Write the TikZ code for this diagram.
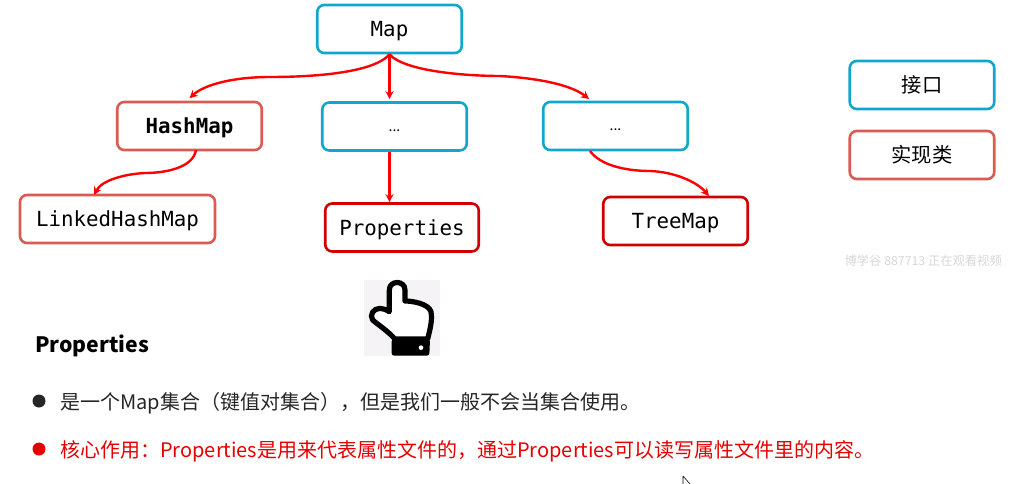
\documentclass[tikz,border=0pt]{standalone}
\usepackage{fontspec}
\setmainfont{Noto Sans CJK SC}
\newfontfamily\codefont{DejaVu Sans Mono}
\newcommand{\fsz}[1]{\fontsize{#1}{#1}\selectfont}
\usetikzlibrary{arrows.meta}
\definecolor{ifaceblue}{HTML}{12A6CC}
\definecolor{softred}{HTML}{DB5A52}
\definecolor{hardred}{HTML}{D00000}
\definecolor{linkred}{HTML}{FF0000}
\definecolor{inktext}{HTML}{262626}
\definecolor{handbg}{HTML}{F5F3F6}
\tikzset{
  box/.style={draw,rounded corners=7pt,line width=2.6pt,fill=white,inner sep=0pt,
    minimum width=#1,minimum height=48pt,text=black},
  box/.default=144.5pt,
  code/.style={font=\codefont\fsz{20.8},text height=15pt,text depth=0pt},
  iface/.style={box=#1,draw=ifaceblue},
  iface/.default=144.5pt,
  soft/.style={box=#1,draw=softred},
  soft/.default=144.5pt,
  hard/.style={box=#1,draw=hardred},
  hard/.default=144.5pt,
  link/.style={draw=linkred,line width=2.4pt,-{Stealth[length=8pt,width=8pt]}},
  body/.style={anchor=west,inner sep=0pt,font=\fsz{20}},
  bullet/.style={circle,inner sep=0pt,minimum size=13pt}
}
\begin{document}
\begin{tikzpicture}[x=1pt,y=-1pt]
\useasboundingbox (0,0) rectangle (1014,484);
\node[iface,code] (map) at (389.5,29) {Map};
\node[soft,code,font=\codefont\bfseries\fsz{20.8}] (hash) at (189.5,126) {HashMap};
\node[iface] (dotsa) at (394.5,126.5) {\fsz{14}\smash{\raisebox{-5pt}{...}}};
\node[iface] (dotsb) at (615.5,126) {\fsz{14}\smash{\raisebox{-5pt}{...}}};
\node[soft=195pt,code] (linked) at (117.5,219) {LinkedHashMap};
\node[hard=153.5pt,code] (prop) at (402,227.5) {Properties};
\node[hard,code] (tree) at (675.5,221) {TreeMap};
\node[iface,font=\fsz{20.3}] (legi) at (922,85) {接口};
\node[soft,font=\fsz{20.3}] (legc) at (922,155) {实现类};
\coordinate (hashin) at ([yshift=2.5pt]hash.north);
\coordinate (dotsaout) at (map.south |- dotsa.south);
\coordinate (dotsain) at ([yshift=2pt]map.south |- dotsa.north);
\coordinate (dotsbin) at (589,99);
\coordinate (linkedin) at (94,195);
\coordinate (hashout) at (196,150);
\coordinate (dotsbout) at (590,151);
\coordinate (treein) at (709,196);
\coordinate (propin) at (map.south |- prop.north);
\draw[link] (map.south) .. controls (372,75) and (300,77) .. (270,77) .. controls (235,77) and (205,84) .. (hashin);
\draw[link] (map.south) -- (dotsain);
\draw[link] (map.south) .. controls (405,72) and (470,76) .. (500,76) .. controls (535,78) and (570,84) .. (dotsbin);
\draw[link] (hashout) .. controls (193,168) and (165,173) .. (145,173) .. controls (125,174) and (102,180) .. (linkedin);
\draw[link] (dotsaout) -- (propin);
\draw[link] (dotsbout) .. controls (600,165) and (625,171) .. (650,171) .. controls (675,172) and (697,182) .. (treein);
% pointing hand
\fill[handbg] (364,280) rectangle (440,356);
\begin{scope}[shift={(340,265)},x=0.3333pt,y=-0.3333pt]
  \draw[line width=5.2pt,line join=round,fill=white]
    (165,222) .. controls (140,195) and (115,180) .. (98,165)
    .. controls (88,150) and (100,130) .. (120,130)
    .. controls (130,130) and (140,135) .. (148,140)
    -- (148,75) .. controls (148,45) and (195,45) .. (195,75)
    -- (195,108) .. controls (215,108) and (265,115) .. (273,140)
    .. controls (278,170) and (268,200) .. (263,222) -- cycle;
  \fill[rounded corners=2.5pt,black] (155,222) -- (270,222) -- (268,272) -- (155,272) -- cycle;
  \fill[white] (243,248) circle[radius=7];
\end{scope}
\node[anchor=west,inner sep=0pt,font=\bfseries\fsz{21.2},text=black] (head) at (35,346) {Properties};
\node[bullet,fill=inktext] (b1) at (39,401) {};
\node[body,text=inktext] (t1) at (60,403) {是一个Map集合（键值对集合），但是我们一般不会当集合使用。};
\node[bullet,fill=red!90!black] (b2) at (39,449) {};
\node[body,text=red!90!black] (t2) at (60,451) {核心作用：Properties是用来代表属性文件的，通过Properties可以读写属性文件里的内容。};
\node[anchor=east,inner sep=0pt,text=black!16,font=\fsz{12.3}] (wm) at (1002,261) {博学谷 887713 正在观看视频};
\draw[black,line width=.6pt] (683,476) -- (683,484) (683,476) -- (690,484);
\end{tikzpicture}
\end{document}
